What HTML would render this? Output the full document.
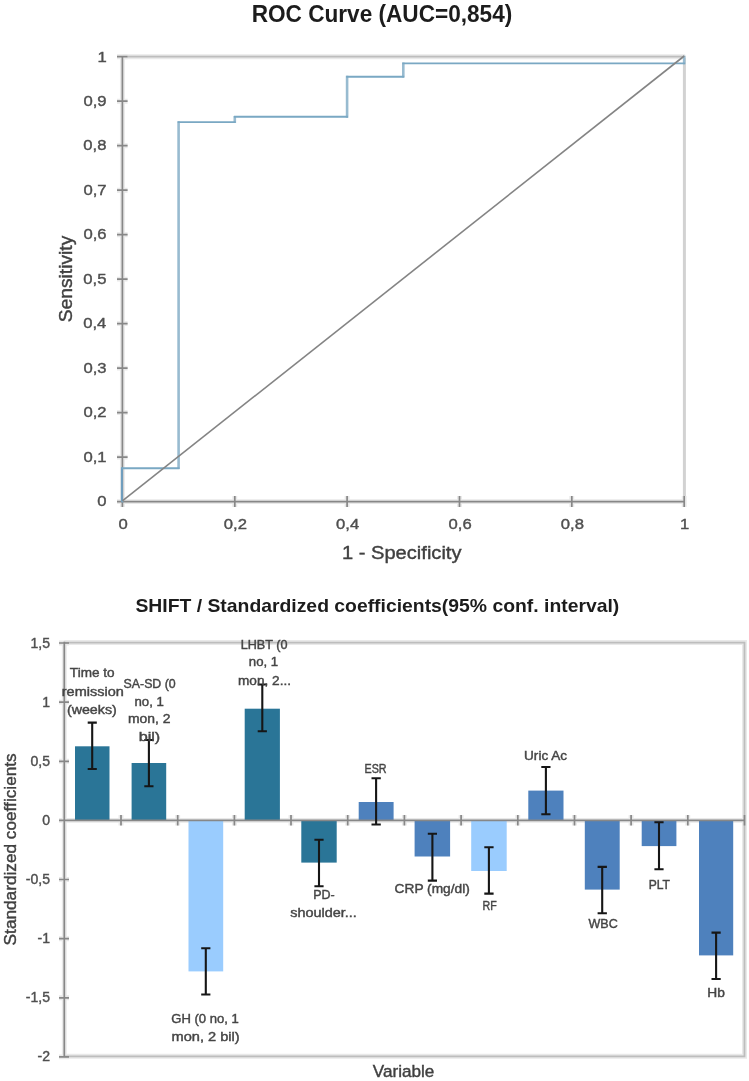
<!DOCTYPE html><html><head><meta charset="utf-8"><title>Charts</title><style>html,body{margin:0;padding:0;background:#fff;}svg{display:block;will-change:transform;}text{font-family:"Liberation Sans", sans-serif;}</style></head><body>
<svg width="749" height="1081" viewBox="0 0 749 1081">
<rect width="749" height="1081" fill="#fff"/>
<text transform="translate(251.73 21.60) scale(0.9577 1)" font-size="23.6" font-weight="bold" fill="#1c1c1c">ROC Curve (AUC=0,854)</text>
<path d="M122.4 56.7H685.2" fill="none" stroke="#e9e9e9" stroke-width="5.0"/><path d="M122.4 56.7H685.2" fill="none" stroke="#bdbdbd" stroke-width="1.8"/>
<path d="M684.4000000000001 57.7V501.6" fill="none" stroke="#d2d2d2" stroke-width="3"/>
<path d="M122.4 55.900000000000006V501.6H685.0M117 501.6H127.6M117 457.1H127.6M117 412.6H127.6M117 368.1H127.6M117 323.6H127.6M117 279.1H127.6M117 234.7H127.6M117 190.2H127.6M117 145.7H127.6M117 101.2H127.6M117 56.7H127.6M122.4 496V507M234.8 496V507M347.1 496V507M459.5 496V507M571.8 496V507M684.2 496V507" fill="none" stroke="#e9e9e9" stroke-width="4.9"/><path d="M122.4 55.900000000000006V501.6H685.0M117 501.6H127.6M117 457.1H127.6M117 412.6H127.6M117 368.1H127.6M117 323.6H127.6M117 279.1H127.6M117 234.7H127.6M117 190.2H127.6M117 145.7H127.6M117 101.2H127.6M117 56.7H127.6M122.4 496V507M234.8 496V507M347.1 496V507M459.5 496V507M571.8 496V507M684.2 496V507" fill="none" stroke="#878787" stroke-width="1.7"/>
<path d="M178.6 469.1V121.2M234.8 123.0V115.9M347.1 117.7V75.8M403.3 77.6V62.5M684.2 64.3V55.8" fill="none" stroke="#98bbd0" stroke-width="2.6"/>
<path d="M121.9 501.6V467.3" fill="none" stroke="#6f9fc0" stroke-width="2"/>
<path d="M121.5 501.6H123.3M121.5 468.2H179.5M177.7 122.1H235.7M233.9 116.8H348.0M346.2 76.7H404.2M402.4 63.4H685.1" fill="none" stroke="#7aa8c3" stroke-width="1.9"/>
<line x1="122.4" y1="500.90000000000003" x2="684.2" y2="56.0" stroke="#848484" stroke-width="1.6"/>
<text transform="translate(97.23 506.40) scale(1.1100 1)" font-size="15" fill="#4f4f4f" stroke="#4f4f4f" stroke-width="0.4">0</text>
<text transform="translate(83.49 461.91) scale(1.1100 1)" font-size="15" fill="#4f4f4f" stroke="#4f4f4f" stroke-width="0.4">0,1</text>
<text transform="translate(83.49 417.42) scale(1.1100 1)" font-size="15" fill="#4f4f4f" stroke="#4f4f4f" stroke-width="0.4">0,2</text>
<text transform="translate(83.41 372.93) scale(1.1100 1)" font-size="15" fill="#4f4f4f" stroke="#4f4f4f" stroke-width="0.4">0,3</text>
<text transform="translate(83.16 328.44) scale(1.1100 1)" font-size="15" fill="#4f4f4f" stroke="#4f4f4f" stroke-width="0.4">0,4</text>
<text transform="translate(83.32 283.95) scale(1.1100 1)" font-size="15" fill="#4f4f4f" stroke="#4f4f4f" stroke-width="0.4">0,5</text>
<text transform="translate(83.41 239.46) scale(1.1100 1)" font-size="15" fill="#4f4f4f" stroke="#4f4f4f" stroke-width="0.4">0,6</text>
<text transform="translate(83.49 194.97) scale(1.1100 1)" font-size="15" fill="#4f4f4f" stroke="#4f4f4f" stroke-width="0.4">0,7</text>
<text transform="translate(83.32 150.48) scale(1.1100 1)" font-size="15" fill="#4f4f4f" stroke="#4f4f4f" stroke-width="0.4">0,8</text>
<text transform="translate(83.41 105.99) scale(1.1100 1)" font-size="15" fill="#4f4f4f" stroke="#4f4f4f" stroke-width="0.4">0,9</text>
<text transform="translate(97.39 61.50) scale(1.1100 1)" font-size="15" fill="#4f4f4f" stroke="#4f4f4f" stroke-width="0.4">1</text>
<text transform="translate(118.38 528.80) scale(1.1100 1)" font-size="15" fill="#4f4f4f" stroke="#4f4f4f" stroke-width="0.4">0</text>
<text transform="translate(223.87 528.80) scale(1.1100 1)" font-size="15" fill="#4f4f4f" stroke="#4f4f4f" stroke-width="0.4">0,2</text>
<text transform="translate(336.07 528.80) scale(1.1100 1)" font-size="15" fill="#4f4f4f" stroke="#4f4f4f" stroke-width="0.4">0,4</text>
<text transform="translate(448.55 528.80) scale(1.1100 1)" font-size="15" fill="#4f4f4f" stroke="#4f4f4f" stroke-width="0.4">0,6</text>
<text transform="translate(560.87 528.80) scale(1.1100 1)" font-size="15" fill="#4f4f4f" stroke="#4f4f4f" stroke-width="0.4">0,8</text>
<text transform="translate(679.97 528.80) scale(1.1100 1)" font-size="15" fill="#4f4f4f" stroke="#4f4f4f" stroke-width="0.4">1</text>
<text transform="translate(341.99 559.40) scale(1.0589 1)" font-size="19" fill="#404040" stroke="#404040" stroke-width="0.4">1 - Specificity</text>
<text transform="translate(71.80 322.16) rotate(-90) scale(1.0112 1)" font-size="19" fill="#404040" stroke="#404040" stroke-width="0.4">Sensitivity</text>
<text transform="translate(135.42 612.40) scale(1.0089 1)" font-size="19.2" font-weight="bold" fill="#1c1c1c">SHIFT / Standardized coefficients(95% conf. interval)</text>
<path d="M64.3 642.6H744.5V1056.3H64.3" fill="none" stroke="#e9e9e9" stroke-width="5"/>
<path d="M64.3 641.8000000000001V1057.1M64.3 820.4H744.5M64.3 815V825.5M121.0 815V825.5M177.7 815V825.5M234.4 815V825.5M291.0 815V825.5M347.7 815V825.5M404.4 815V825.5M461.1 815V825.5M517.8 815V825.5M574.5 815V825.5M631.1 815V825.5M687.8 815V825.5M744.5 815V825.5M59 643.0H69M59 702.1H69M59 761.3H69M59 820.4H69M59 879.5H69M59 938.7H69M59 997.8H69M59 1056.9H69" fill="none" stroke="#e9e9e9" stroke-width="4.9"/>
<path d="M64.3 642.6H744.5V1056.3H64.3" fill="none" stroke="#bdbdbd" stroke-width="1.8"/>
<rect x="75.0" y="746.3" width="34.5" height="74.1" fill="#2a7597"/>
<rect x="131.6" y="763.0" width="34.6" height="57.4" fill="#2a7597"/>
<rect x="188.5" y="820.4" width="34.7" height="151.0" fill="#9accfe"/>
<rect x="244.7" y="708.7" width="35.2" height="111.7" fill="#2a7597"/>
<rect x="301.3" y="820.4" width="35.4" height="42.2" fill="#2a7597"/>
<rect x="358.7" y="802.0" width="34.9" height="18.4" fill="#4e81bd"/>
<rect x="414.6" y="820.4" width="35.5" height="36.1" fill="#4e81bd"/>
<rect x="471.2" y="820.4" width="35.5" height="50.6" fill="#9accfe"/>
<rect x="528.3" y="790.6" width="35.2" height="29.8" fill="#4e81bd"/>
<rect x="584.8" y="820.4" width="34.9" height="69.2" fill="#4e81bd"/>
<rect x="641.7" y="820.4" width="34.7" height="25.7" fill="#4e81bd"/>
<rect x="699.0" y="820.4" width="34.2" height="135.0" fill="#4e81bd"/>
<path d="M64.3 641.8000000000001V1057.1M64.3 820.4H744.5M64.3 815V825.5M121.0 815V825.5M177.7 815V825.5M234.4 815V825.5M291.0 815V825.5M347.7 815V825.5M404.4 815V825.5M461.1 815V825.5M517.8 815V825.5M574.5 815V825.5M631.1 815V825.5M687.8 815V825.5M744.5 815V825.5M59 643.0H69M59 702.1H69M59 761.3H69M59 820.4H69M59 879.5H69M59 938.7H69M59 997.8H69M59 1056.9H69" fill="none" stroke="#878787" stroke-width="1.7"/>
<text transform="translate(30.40 647.51) scale(1.0200 1)" font-size="13.8" fill="#4f4f4f" stroke="#4f4f4f" stroke-width="0.4">1,5</text>
<text transform="translate(42.29 706.64) scale(1.0200 1)" font-size="13.8" fill="#4f4f4f" stroke="#4f4f4f" stroke-width="0.4">1</text>
<text transform="translate(30.40 765.77) scale(1.0200 1)" font-size="13.8" fill="#4f4f4f" stroke="#4f4f4f" stroke-width="0.4">0,5</text>
<text transform="translate(42.15 824.90) scale(1.0200 1)" font-size="13.8" fill="#4f4f4f" stroke="#4f4f4f" stroke-width="0.4">0</text>
<text transform="translate(25.75 884.03) scale(1.0200 1)" font-size="13.8" fill="#4f4f4f" stroke="#4f4f4f" stroke-width="0.4">-0,5</text>
<text transform="translate(37.58 943.16) scale(1.0200 1)" font-size="13.8" fill="#4f4f4f" stroke="#4f4f4f" stroke-width="0.4">-1</text>
<text transform="translate(25.75 1002.29) scale(1.0200 1)" font-size="13.8" fill="#4f4f4f" stroke="#4f4f4f" stroke-width="0.4">-1,5</text>
<text transform="translate(37.58 1061.42) scale(1.0200 1)" font-size="13.8" fill="#4f4f4f" stroke="#4f4f4f" stroke-width="0.4">-2</text>
<path d="M92.2 722.6V769.0M87.7 722.6H96.8M87.7 769.0H96.8" stroke="#161616" stroke-width="2.1" fill="none"/>
<path d="M148.9 740.0V786.2M144.3 740.0H153.5M144.3 786.2H153.5" stroke="#161616" stroke-width="2.1" fill="none"/>
<path d="M205.8 948.3V994.5M201.2 948.3H210.4M201.2 994.5H210.4" stroke="#161616" stroke-width="2.1" fill="none"/>
<path d="M262.3 684.5V731.2M257.7 684.5H266.9M257.7 731.2H266.9" stroke="#161616" stroke-width="2.1" fill="none"/>
<path d="M319.0 839.8V886.3M314.4 839.8H323.6M314.4 886.3H323.6" stroke="#161616" stroke-width="2.1" fill="none"/>
<path d="M376.1 778.2V824.5M371.5 778.2H380.8M371.5 824.5H380.8" stroke="#161616" stroke-width="2.1" fill="none"/>
<path d="M432.4 833.7V880.6M427.8 833.7H437.0M427.8 880.6H437.0" stroke="#161616" stroke-width="2.1" fill="none"/>
<path d="M488.9 847.2V893.6M484.3 847.2H493.6M484.3 893.6H493.6" stroke="#161616" stroke-width="2.1" fill="none"/>
<path d="M545.9 767.0V814.2M541.3 767.0H550.5M541.3 814.2H550.5" stroke="#161616" stroke-width="2.1" fill="none"/>
<path d="M602.2 866.9V913.2M597.6 866.9H606.9M597.6 913.2H606.9" stroke="#161616" stroke-width="2.1" fill="none"/>
<path d="M659.0 822.2V869.3M654.4 822.2H663.6M654.4 869.3H663.6" stroke="#161616" stroke-width="2.1" fill="none"/>
<path d="M716.1 932.6V979.0M711.5 932.6H720.7M711.5 979.0H720.7" stroke="#161616" stroke-width="2.1" fill="none"/>
<text transform="translate(69.86 677.30) scale(1.1300 1)" font-size="12" fill="#454545" stroke="#454545" stroke-width="0.4">Time to</text>
<text transform="translate(61.76 696.00) scale(1.2088 1)" font-size="12" fill="#454545" stroke="#454545" stroke-width="0.4">remission</text>
<text transform="translate(66.95 713.70) scale(1.1859 1)" font-size="12" fill="#454545" stroke="#454545" stroke-width="0.4">(weeks)</text>
<text transform="translate(123.54 687.60) scale(1.0298 1)" font-size="12" fill="#454545" stroke="#454545" stroke-width="0.4">SA-SD (0</text>
<text transform="translate(134.44 706.40) scale(1.1019 1)" font-size="12" fill="#454545" stroke="#454545" stroke-width="0.4">no, 1</text>
<text transform="translate(128.00 723.30) scale(1.1593 1)" font-size="12" fill="#454545" stroke="#454545" stroke-width="0.4">mon, 2</text>
<text transform="translate(138.65 741.20) scale(1.3485 1)" font-size="12" fill="#454545" stroke="#454545" stroke-width="0.4">bil)</text>
<text transform="translate(171.25 1022.80) scale(1.0897 1)" font-size="12" fill="#454545" stroke="#454545" stroke-width="0.4">GH (0 no, 1</text>
<text transform="translate(171.55 1040.50) scale(1.2170 1)" font-size="12" fill="#454545" stroke="#454545" stroke-width="0.4">mon, 2 bil)</text>
<text transform="translate(240.69 648.60) scale(1.0530 1)" font-size="12" fill="#454545" stroke="#454545" stroke-width="0.4">LHBT (0</text>
<text transform="translate(248.84 666.40) scale(1.1019 1)" font-size="12" fill="#454545" stroke="#454545" stroke-width="0.4">no, 1</text>
<text transform="translate(238.01 684.60) scale(1.1357 1)" font-size="12" fill="#454545" stroke="#454545" stroke-width="0.4">mon, 2...</text>
<text transform="translate(313.20 898.70) scale(1.0417 1)" font-size="12" fill="#454545" stroke="#454545" stroke-width="0.4">PD-</text>
<text transform="translate(290.17 917.40) scale(1.2027 1)" font-size="12" fill="#454545" stroke="#454545" stroke-width="0.4">shoulder...</text>
<text transform="translate(364.54 772.70) scale(0.8938 1)" font-size="12" fill="#454545" stroke="#454545" stroke-width="0.4">ESR</text>
<text transform="translate(394.61 893.20) scale(1.1437 1)" font-size="12" fill="#454545" stroke="#454545" stroke-width="0.4">CRP (mg/dl)</text>
<text transform="translate(482.45 910.20) scale(0.8884 1)" font-size="12" fill="#454545" stroke="#454545" stroke-width="0.4">RF</text>
<text transform="translate(524.08 759.80) scale(1.1310 1)" font-size="12" fill="#454545" stroke="#454545" stroke-width="0.4">Uric Ac</text>
<text transform="translate(588.44 928.40) scale(1.0467 1)" font-size="12" fill="#454545" stroke="#454545" stroke-width="0.4">WBC</text>
<text transform="translate(648.63 889.40) scale(1.0090 1)" font-size="12" fill="#454545" stroke="#454545" stroke-width="0.4">PLT</text>
<text transform="translate(707.30 996.70) scale(1.1472 1)" font-size="12" fill="#454545" stroke="#454545" stroke-width="0.4">Hb</text>
<text transform="translate(372.81 1076.70) scale(1.0072 1)" font-size="17" fill="#404040" stroke="#404040" stroke-width="0.4">Variable</text>
<text transform="translate(16.30 945.38) rotate(-90) scale(1.0260 1)" font-size="16.8" fill="#404040" stroke="#404040" stroke-width="0.4">Standardized coefficients</text>
</svg></body></html>
